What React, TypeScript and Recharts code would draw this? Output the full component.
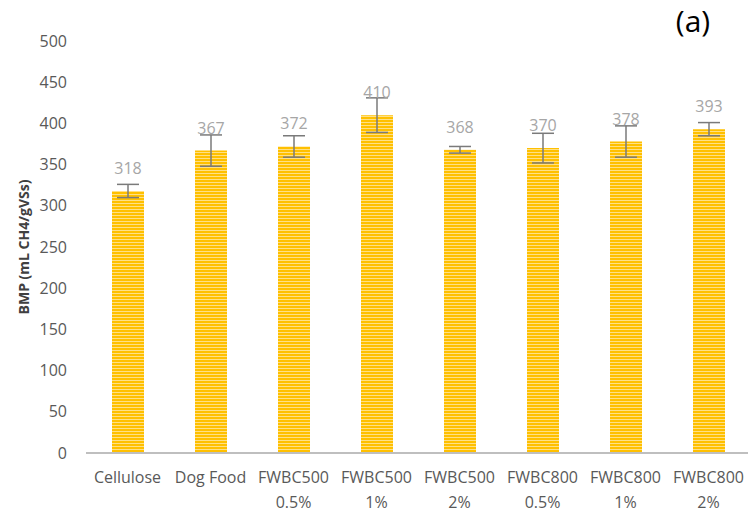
import React from 'react';
import { BarChart, Bar, XAxis, YAxis, ErrorBar, LabelList } from 'recharts';

const categories = ['Cellulose', 'Dog Food', 'FWBC500', 'FWBC500', 'FWBC500', 'FWBC800', 'FWBC800', 'FWBC800'];
const subLabels = ['', '', '0.5%', '1%', '2%', '0.5%', '1%', '2%'];
const bmpValues = [318, 367, 372, 410, 368, 370, 378, 393];
const bmpErrors = [8, 19, 13, 21, 4, 18, 19, 8];
const yTicks = [0, 50, 100, 150, 200, 250, 300, 350, 400, 450, 500];
const yAxisTitle = 'BMP (mL CH4/gVSs)';
const panelTag = '(a)';

const data = categories.map((c, i) => ({
  key: subLabels[i] ? `${c} ${subLabels[i]}` : c,
  line1: c,
  line2: subLabels[i],
  value: bmpValues[i],
  err: bmpErrors[i],
}));

const FONT = "'Open Sans', sans-serif";

const XTick = (props: any) => {
  const { x, y, payload } = props;
  const d = data.find((e) => e.key === payload.value);
  if (!d) return null;
  return (
    <g>
      <text x={x} y={y + 22} textAnchor="middle" fill="#595959" fontSize={16} fontFamily={FONT}>
        {d.line1}
      </text>
      {d.line2 ? (
        <text x={x} y={y + 47} textAnchor="middle" fill="#595959" fontSize={16} fontFamily={FONT}>
          {d.line2}
        </text>
      ) : null}
    </g>
  );
};

const YTitle = (props: any) => {
  const vb = props.viewBox || { x: 0, y: 41, width: 86, height: 412 };
  const cx = 23;
  const cy = vb.y + vb.height / 2;
  return (
    <text
      x={cx}
      y={cy}
      transform={`rotate(-90, ${cx}, ${cy})`}
      textAnchor="middle"
      dominantBaseline="central"
      fill="#404040"
      fontWeight="bold"
      fontSize={14}
      fontFamily={FONT}
    >
      {yAxisTitle}
    </text>
  );
};

export default function App() {
  return (
    <div style={{ position: 'absolute', left: 0, top: 0, width: 748, height: 516, overflow: 'hidden', background: '#fff' }}>
      <svg width={0} height={0} style={{ position: 'absolute' }}>
        <defs>
          <pattern id="hstripes" patternUnits="userSpaceOnUse" width={8} height={3}>
            <rect x={0} y={0} width={8} height={3} fill="#FFC000" />
            <rect x={0} y={2} width={8} height={1} fill="#FFE085" />
          </pattern>
        </defs>
      </svg>
      <BarChart
        width={760}
        height={516}
        data={data}
        margin={{ top: 41, right: 10, bottom: 0, left: 0 }}
      >
        <XAxis
          dataKey="key"
          height={63}
          axisLine={{ stroke: '#BFBFBF', strokeWidth: 2 }}
          tickLine={false}
          tick={<XTick />}
          interval={0}
        />
        <YAxis
          domain={[0, 500]}
          ticks={yTicks}
          width={86}
          axisLine={false}
          tickLine={false}
          tickMargin={13}
          tick={{ fill: '#595959', fontSize: 16, fontFamily: FONT }}
          label={{ content: <YTitle /> }}
        />
        <Bar dataKey="value" fill="url(#hstripes)" barSize={32} isAnimationActive={false}>
          <ErrorBar dataKey="err" width={11} stroke="#7A7A7A" strokeWidth={1.5} />
          <LabelList dataKey="value" position="top" offset={17} fill="#A6A6A6" fontSize={16} fontFamily={FONT} />
        </Bar>
      </BarChart>
      <svg width={748} height={516} style={{ position: 'absolute', left: 0, top: 0, pointerEvents: 'none' }}>
        <text x={693} y={32} textAnchor="middle" fontSize={30} fontFamily={FONT} fill="#000">
          {panelTag}
        </text>
      </svg>
    </div>
  );
}
